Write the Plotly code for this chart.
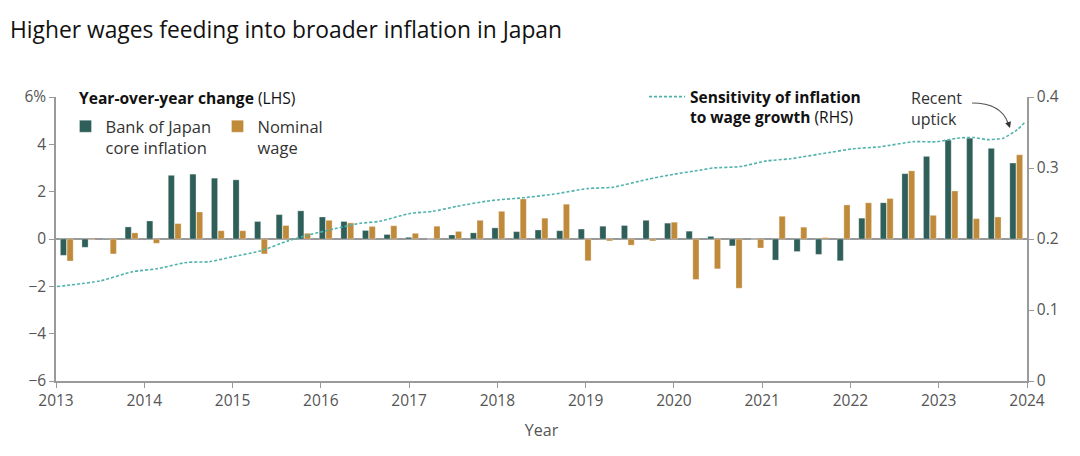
import plotly.graph_objects as go

# ---- data ----
quarters = [f"{y}Q{q}" for y in range(2013, 2024) for q in range(1, 5)] + ["2024Q1"]
boj_core_inflation = [
    -0.69, -0.35, -0.03, 0.51,
    0.76, 2.69, 2.74, 2.57,
    2.50, 0.74, 1.03, 1.19,
    0.93, 0.74, 0.36, 0.19,
    0.07, 0.00, 0.17, 0.26,
    0.47, 0.31, 0.38, 0.35,
    0.42, 0.54, 0.57, 0.79,
    0.67, 0.33, 0.11, -0.29,
    0.00, -0.89, -0.53, -0.65,
    -0.92, 0.88, 1.53, 2.76,
    3.49, 4.18, 4.26, 3.83,
    3.21,
]
nominal_wage = [
    -0.93, -0.03, -0.63, 0.26,
    -0.18, 0.65, 1.14, 0.35,
    0.35, -0.63, 0.57, 0.24,
    0.79, 0.68, 0.53, 0.56,
    0.24, 0.54, 0.32, 0.79,
    1.17, 1.69, 0.88, 1.47,
    -0.92, -0.08, -0.26, -0.08,
    0.71, -1.71, -1.26, -2.08,
    -0.38, 0.96, 0.50, 0.06,
    1.44, 1.53, 1.71, 2.88,
    1.00, 2.03, 0.86, 0.93,
    3.56,
]
line_years = [2013.01, 2013.50, 2013.87, 2014.14, 2014.48, 2014.74, 2015.00, 2015.31,
              2015.62, 2015.84, 2016.14, 2016.44, 2016.67, 2017.01, 2017.27, 2017.54,
              2017.92, 2018.29, 2018.63, 2019.02, 2019.31, 2019.70, 2019.99, 2020.30,
              2020.44, 2020.75, 2021.05, 2021.32, 2021.77, 2022.03, 2022.34, 2022.71,
              2022.98, 2023.21, 2023.39, 2023.55, 2023.73, 2023.89, 2023.98]
sensitivity = [0.133, 0.141, 0.154, 0.158, 0.167, 0.168, 0.175, 0.183,
               0.197, 0.205, 0.214, 0.222, 0.225, 0.236, 0.239, 0.246,
               0.254, 0.258, 0.263, 0.271, 0.273, 0.284, 0.291, 0.297,
               0.300, 0.302, 0.310, 0.313, 0.322, 0.327, 0.330, 0.337,
               0.337, 0.342, 0.343, 0.340, 0.342, 0.354, 0.365]
year_ticks = list(range(2013, 2025))
left_ticks = [-6, -4, -2, 0, 2, 4, 6]
left_ticktext = ["\u22126", "\u22124", "\u22122", "0", "2", "4", "6%"]
right_ticks = [0, 0.1, 0.2, 0.3, 0.4]
right_ticktext = ["0", "0.1", "0.2", "0.3", "0.4"]

GREEN = "#2e5f59"
ORANGE = "#c08a3b"
TEAL = "#4fb3ac"
AXIS = "#9a9a9a"
TICKC = "#555555"
FONT = "Open Sans"

L, R, T, B = 56, 53, 97, 75
PW, PH = 1080 - L - R, 456 - T - B


def px(xp):
    return (xp - L) / PW


def py(yp):
    return (456 - B - yp) / PH


n = len(quarters)
span = year_ticks[-1] - year_ticks[0]
bar_x = [year_ticks[0] + (i + 0.5) * span / n for i in range(n)]

fig = go.Figure()
fig.add_trace(go.Bar(
    x=bar_x, y=boj_core_inflation, name="Bank of Japan<br>core inflation",
    marker=dict(color=GREEN, line=dict(color="rgba(255,255,255,0.6)", width=0.5)),
    legend="legend", hovertext=quarters,
))
fig.add_trace(go.Bar(
    x=bar_x, y=nominal_wage, name="Nominal<br>wage",
    marker=dict(color=ORANGE, line=dict(color="rgba(255,255,255,0.6)", width=0.5)),
    legend="legend", hovertext=quarters,
))
fig.add_trace(go.Scatter(
    x=line_years, y=sensitivity, yaxis="y2", mode="lines",
    name="<b>Sensitivity of inflation</b><br><b>to wage growth</b> (RHS)",
    line=dict(color=TEAL, width=1.6, dash="3px,2px", shape="spline", smoothing=0.6),
    legend="legend2",
))

fig.update_layout(
    width=1080, height=456,
    margin=dict(l=L, r=R, t=T, b=B, autoexpand=False),
    paper_bgcolor="white", plot_bgcolor="white",
    font=dict(family=FONT, size=15.5, color=TICKC),
    barmode="group", bargap=0.38, bargroupgap=0.08,
    title=dict(text="Higher wages feeding into broader inflation in Japan",
               x=10 / 1080, xanchor="left", y=1 - 30 / 456, yanchor="middle",
               font=dict(family=FONT, size=22.8, color="#111111")),
    xaxis=dict(range=[2013, 2024], tickvals=year_ticks, showgrid=False,
               showline=True, linecolor=AXIS, linewidth=1.5,
               ticks="outside", ticklen=5, tickcolor=AXIS,
               tickfont=dict(size=15.5, color=TICKC),
               title=dict(text="Year", font=dict(size=16, color=TICKC), standoff=14),
               zeroline=False),
    yaxis=dict(range=[-6, 6], tickvals=left_ticks, ticktext=left_ticktext,
               showgrid=False, showline=True, linecolor=AXIS, linewidth=1.5,
               ticks="outside", ticklen=5, tickcolor=AXIS,
               tickfont=dict(size=15.5, color=TICKC),
               zeroline=True, zerolinecolor=AXIS, zerolinewidth=1.5),
    yaxis2=dict(range=[0, 0.4], tickvals=right_ticks, ticktext=right_ticktext,
                overlaying="y", side="right", showgrid=False,
                showline=True, linecolor=AXIS, linewidth=1.5,
                ticks="outside", ticklen=5, tickcolor=AXIS,
                tickfont=dict(size=15.5, color=TICKC), zeroline=False),
    legend=dict(
        orientation="h", x=px(65.5), xanchor="left", y=py(109), yanchor="top",
        font=dict(size=16.5, color="#333333"), valign="top",
        entrywidth=107, entrywidthmode="pixels",
        bgcolor="rgba(0,0,0,0)", itemclick=False,
    ),
    legend2=dict(
        orientation="h", x=px(644), xanchor="left", y=py(80), yanchor="top",
        font=dict(size=15.5, color="#111111"), valign="top", itemwidth=36,
        bgcolor="rgba(0,0,0,0)",
    ),
)

# legend heading for the bars
fig.add_annotation(text="<b>Year-over-year change</b> (LHS)", xref="paper", yref="paper",
                   x=px(77), y=py(98), xanchor="left", yanchor="middle", showarrow=False,
                   font=dict(family=FONT, size=15.6, color="#111111"))

# "Recent uptick" callout with a curved arrow
fig.add_annotation(text="Recent<br>uptick", xref="paper", yref="paper",
                   x=px(909), y=py(85), xanchor="left", yanchor="top",
                   align="left", showarrow=False,
                   font=dict(family=FONT, size=16, color="#333333"))
fig.add_shape(type="path", xref="paper", yref="paper",
              path=f"M {px(972):.4f},{py(103):.4f} Q {px(1001):.4f},{py(103):.4f} "
                   f"{px(1008):.4f},{py(123):.4f}",
              line=dict(color="#555555", width=1.2))
fig.add_annotation(text="", xref="paper", yref="paper",
                   x=px(1010), y=py(128), ax=-2, ay=-6, showarrow=True,
                   arrowhead=2, arrowsize=1, arrowwidth=1.2, arrowcolor="#333333",
                   standoff=0)

fig.write_html("out.html", config={"displayModeBar": False},
               post_script="document.body.style.margin='0';")
